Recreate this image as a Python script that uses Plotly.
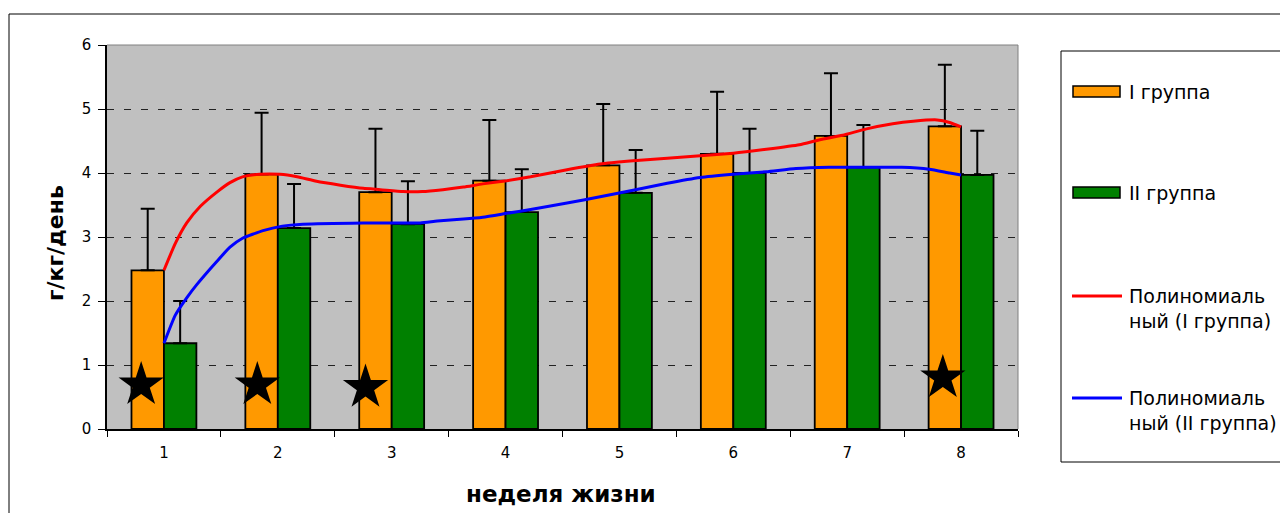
import plotly.graph_objects as go

# ---- data ----
weeks = [1, 2, 3, 4, 5, 6, 7, 8]
tick_labels = ["1", "2", "3", "4", "5", "6", "7", "8"]
group1 = [2.48, 3.98, 3.70, 3.88, 4.12, 4.30, 4.58, 4.73]
group1_err = [0.96, 0.96, 0.99, 0.95, 0.96, 0.97, 0.98, 0.96]
group2 = [1.34, 3.14, 3.20, 3.39, 3.69, 4.00, 4.09, 3.97]
group2_err = [0.66, 0.69, 0.67, 0.67, 0.67, 0.69, 0.66, 0.69]

trend1_x = [1.0, 1.10, 1.20, 1.32, 1.47, 1.58, 1.69, 1.84, 2.02, 2.17, 2.34, 2.55, 2.75, 2.90,
            3.10, 3.27, 3.45, 3.63, 3.80, 4.01, 4.22, 4.54, 4.83, 5.12, 5.42, 5.71, 6.00,
            6.29, 6.58, 6.76, 6.96, 7.17, 7.40, 7.58, 7.79, 7.90, 8.0]
trend1_y = [2.48, 2.90, 3.22, 3.48, 3.71, 3.85, 3.94, 3.98, 3.98, 3.94, 3.87, 3.81, 3.76, 3.74,
            3.71, 3.71, 3.74, 3.78, 3.83, 3.88, 3.94, 4.05, 4.14, 4.19, 4.23, 4.27, 4.31,
            4.37, 4.44, 4.52, 4.59, 4.69, 4.77, 4.81, 4.83, 4.79, 4.72]
trend2_x = [1.0, 1.10, 1.20, 1.29, 1.47, 1.58, 1.69, 1.87, 2.04, 2.22, 2.75, 3.25, 3.40, 3.63,
            3.80, 4.01, 4.22, 4.54, 4.83, 5.12, 5.42, 5.71, 6.00, 6.29, 6.55, 6.84, 7.13,
            7.48, 7.72, 7.90, 8.0]
trend2_y = [1.34, 1.78, 2.05, 2.26, 2.63, 2.84, 2.98, 3.10, 3.17, 3.20, 3.22, 3.22, 3.25, 3.28,
            3.31, 3.37, 3.43, 3.53, 3.63, 3.73, 3.84, 3.93, 3.98, 4.02, 4.07, 4.09, 4.09,
            4.09, 4.06, 4.00, 3.97]

star_x = [0.80, 1.82, 2.77, 7.84]
star_y = [0.69, 0.69, 0.65, 0.80]

names = ["I группа", "II группа", "Полиномиаль<br>ный (I группа)", "Полиномиаль<br>ный (II группа)"]

ORANGE = "#FF9900"
GREEN = "#008000"
RED = "#FF0000"
BLUE = "#0000FF"
FONT = "DejaVu Sans"

# page is 1288x513; the html body adds an 8px margin, so the figure is offset by 8px
OFF = 8
W, H = 1288 - OFF, 513 - OFF
# plot area in page pixels
L, R, T, B = 107, 1018, 45, 429
PW, PH = R - L, B - T


def px(x):
    return (x - L) / PW


def py(y):
    return (B - y) / PH


fig = go.Figure()
fig.add_trace(go.Bar(
    x=weeks, y=group1, name=names[0], marker=dict(color=ORANGE, line=dict(color="black", width=1.8)),
    error_y=dict(type="data", array=group1_err, arrayminus=[0] * 8, symmetric=False,
                 color="black", thickness=2, width=7),
    showlegend=False))
fig.add_trace(go.Bar(
    x=weeks, y=group2, name=names[1], marker=dict(color=GREEN, line=dict(color="black", width=1.8)),
    error_y=dict(type="data", array=group2_err, arrayminus=[0] * 8, symmetric=False,
                 color="black", thickness=2, width=7),
    showlegend=False))
fig.add_trace(go.Scatter(x=trend1_x, y=trend1_y, mode="lines", line=dict(color=RED, width=3, shape="spline", smoothing=0.5),
                         showlegend=False, name="Полиномиальный (I группа)"))
fig.add_trace(go.Scatter(x=trend2_x, y=trend2_y, mode="lines", line=dict(color=BLUE, width=3, shape="spline", smoothing=0.5),
                         showlegend=False, name="Полиномиальный (II группа)"))
fig.add_trace(go.Scatter(x=star_x, y=star_y, mode="markers",
                         marker=dict(symbol="star", size=34, color="black", line=dict(width=0)),
                         showlegend=False, hoverinfo="skip"))

shapes = []
# outer chart border
shapes.append(dict(type="rect", xref="paper", yref="paper", x0=px(9), x1=px(1300), y0=py(530), y1=py(14),
                   line=dict(color="black", width=1), fillcolor="rgba(0,0,0,0)"))
# plot area top/right gray edges
shapes.append(dict(type="line", xref="paper", yref="paper", x0=0, x1=1, y0=1, y1=1, line=dict(color="#808080", width=1)))
shapes.append(dict(type="line", xref="paper", yref="paper", x0=1, x1=1, y0=0, y1=1, line=dict(color="#808080", width=1)))
# legend box
shapes.append(dict(type="rect", xref="paper", yref="paper", x0=px(1061), x1=px(1300), y0=py(462), y1=py(51),
                   line=dict(color="black", width=1), fillcolor="white"))
shapes.append(dict(type="rect", xref="paper", yref="paper", x0=px(1073), x1=px(1120), y0=py(97), y1=py(86),
                   line=dict(color="black", width=1.5), fillcolor=ORANGE))
shapes.append(dict(type="rect", xref="paper", yref="paper", x0=px(1073), x1=px(1120), y0=py(198), y1=py(187),
                   line=dict(color="black", width=1.5), fillcolor=GREEN))
shapes.append(dict(type="line", xref="paper", yref="paper", x0=px(1072), x1=px(1122), y0=py(296), y1=py(296),
                   line=dict(color=RED, width=3)))
shapes.append(dict(type="line", xref="paper", yref="paper", x0=px(1072), x1=px(1122), y0=py(398), y1=py(398),
                   line=dict(color=BLUE, width=3)))

annotations = []
leg_y = [92, 193, 308, 410]
for nm, yy in zip(names, leg_y):
    annotations.append(dict(text=nm, xref="paper", yref="paper", x=px(1127), y=py(yy), xanchor="left",
                            yanchor="middle", align="left", showarrow=False,
                            font=dict(family=FONT, size=19, color="black")))
annotations.append(dict(text="<b>неделя жизни</b>", xref="paper", yref="paper", x=px(561), y=py(494),
                        xanchor="center", yanchor="middle", showarrow=False,
                        font=dict(family=FONT, size=23, color="black")))
annotations.append(dict(text="<b>г/кг/день</b>", xref="paper", yref="paper", x=px(55), y=py(243),
                        xanchor="center", yanchor="middle", textangle=-90, showarrow=False,
                        font=dict(family=FONT, size=22, color="black")))

fig.update_layout(
    width=W, height=H,
    margin=dict(l=L - OFF, r=1288 - R, t=T - OFF, b=513 - B, pad=0),
    paper_bgcolor="white", plot_bgcolor="#C0C0C0",
    barmode="group", bargap=0.43, bargroupgap=0,
    showlegend=False,
    shapes=shapes, annotations=annotations,
    font=dict(family=FONT, size=15, color="black"),
)
fig.update_xaxes(
    range=[0.5, 8.5], tickvals=weeks, ticktext=tick_labels, ticks="", showgrid=False,
    showline=True, linecolor="black", linewidth=1.5, zeroline=False,
    tickfont=dict(family=FONT, size=15), ticklabelstandoff=9,
    minor=dict(tickvals=[0.5 + i for i in range(9)], ticks="outside", ticklen=6, tickcolor="black",
               tickwidth=1, showgrid=False),
)
fig.update_yaxes(
    range=[0, 6], tickvals=[0, 1, 2, 3, 4, 5, 6], ticks="outside", ticklen=7, tickcolor="black",
    showline=True, linecolor="black", linewidth=1.5, zeroline=False,
    showgrid=True, gridcolor="#222222", gridwidth=1, griddash="7px,10px",
    tickfont=dict(family=FONT, size=15), ticklabelstandoff=4,
)

fig.write_html("out.html")
